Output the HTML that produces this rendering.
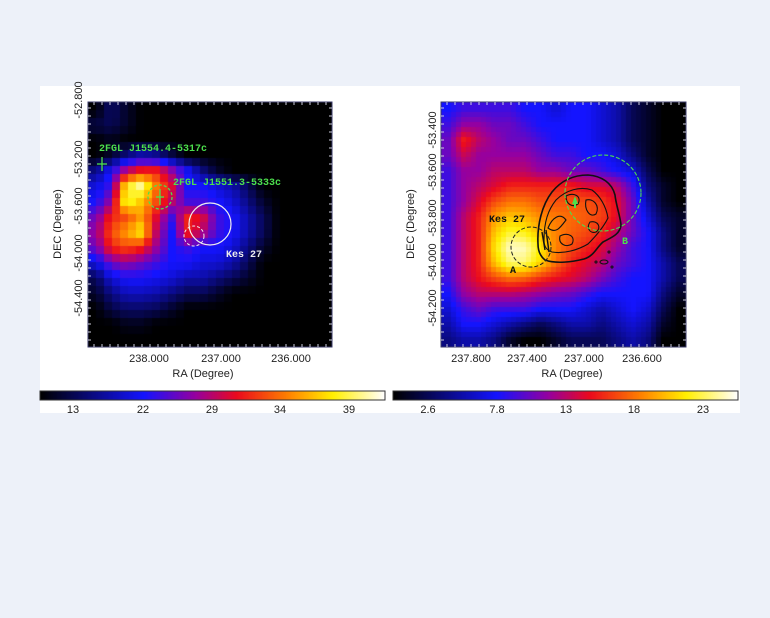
<!DOCTYPE html>
<html><head><meta charset="utf-8"><style>
body{margin:0;width:770px;height:618px;background:#edf1f9;position:relative;overflow:hidden;font-family:"Liberation Sans",sans-serif}
#panel{position:absolute;left:40px;top:86px;width:700px;height:327px;background:#fff}
canvas{position:absolute}
svg{position:absolute;left:0;top:0}
</style></head><body>
<div id="panel"></div>
<canvas id="mapL" width="244" height="245" style="left:88px;top:102px"></canvas>
<canvas id="mapR" width="245" height="245" style="left:441px;top:102px"></canvas>
<canvas id="cbL" width="345" height="9" style="left:40px;top:391px"></canvas>
<canvas id="cbR" width="345" height="9" style="left:393px;top:391px"></canvas>
<svg width="770" height="618" font-family="Liberation Sans, sans-serif">
<g fill="none" stroke="#3a3a6a">
<rect x="88" y="102" width="244" height="245"/>
<rect x="441" y="102" width="245" height="245"/>
</g>
<g id="ticks" stroke="#ccd" stroke-width="1"></g>
<g font-size="11" fill="#222" text-anchor="middle">
<text x="149" y="362">238.000</text><text x="221" y="362">237.000</text><text x="291" y="362">236.000</text>
<text x="203" y="377">RA (Degree)</text>
</g>
<g font-size="11" fill="#222" text-anchor="middle">
<text transform="translate(82,100) rotate(-90)">-52.800</text>
<text transform="translate(82,159) rotate(-90)">-53.200</text>
<text transform="translate(82,206) rotate(-90)">-53.600</text>
<text transform="translate(82,253) rotate(-90)">-54.000</text>
<text transform="translate(82,298) rotate(-90)">-54.400</text>
<text transform="translate(61,224) rotate(-90)">DEC (Degree)</text>
</g>
<g font-size="11" fill="#222" text-anchor="middle">
<text x="471" y="362">237.800</text><text x="527" y="362">237.400</text><text x="584" y="362">237.000</text><text x="642" y="362">236.600</text>
<text x="572" y="377">RA (Degree)</text>
</g>
<g font-size="11" fill="#222" text-anchor="middle">
<text transform="translate(436,130) rotate(-90)">-53.400</text>
<text transform="translate(436,172) rotate(-90)">-53.600</text>
<text transform="translate(436,218) rotate(-90)">-53.800</text>
<text transform="translate(436,262) rotate(-90)">-54.000</text>
<text transform="translate(436,308) rotate(-90)">-54.200</text>
<text transform="translate(414,224) rotate(-90)">DEC (Degree)</text>
</g>
<g font-size="10" font-weight="bold" font-family="Liberation Mono, monospace">
<text x="99" y="151" fill="#4de04d">2FGL J1554.4-5317c</text>
<text x="173" y="185" fill="#4de04d">2FGL J1551.3-5333c</text>
<text x="226" y="257" fill="#eee">Kes 27</text>
<text x="489" y="222" fill="#111">Kes 27</text>
<text x="510" y="273" fill="#111">A</text>
<text x="622" y="244" fill="#4de04d">B</text>
</g>
<g stroke="#4de04d" stroke-width="1.3"><line x1="102" y1="157" x2="102" y2="171"/><line x1="97" y1="164" x2="107" y2="164"/></g>
<g stroke="#4de04d" stroke-width="1.3" fill="none"><circle cx="160" cy="197" r="12" stroke-dasharray="3,2"/><line x1="160" y1="189" x2="160" y2="205"/><line x1="156" y1="197" x2="164" y2="197"/></g>
<circle cx="210" cy="224" r="21" fill="none" stroke="#eee" stroke-width="1.2"/>
<circle cx="194" cy="236" r="10" fill="none" stroke="#eee" stroke-dasharray="3,2"/>
<g fill="none" stroke="#111" stroke-width="1.1">
<path stroke-width="1.6" d="M538,244 C537,225 542,205 552,192 C560,182 572,175 588,175 C602,176 612,183 615,195 C616,205 620,215 621,225 C620,235 610,238 603,242 C596,248 594,256 584,259 C572,262 556,264 545,260 C540,256 538,250 538,244Z"/>
<path d="M544,240 C544,222 548,210 556,200 C566,190 580,186 592,190 C600,196 606,206 608,218 C603,228 596,236 588,244 C578,250 564,254 552,252 C546,250 544,246 544,240Z"/>
<path d="M548,228 C552,218 560,212 566,220 C560,228 556,234 548,228Z"/>
<path d="M566,196 C574,192 582,196 578,204 C572,208 566,204 566,196Z"/>
<path d="M586,200 C594,198 600,206 596,214 C590,218 584,210 586,200Z"/>
<path d="M560,236 C568,232 576,236 572,244 C566,248 558,244 560,236Z"/>
<path d="M590,222 C598,220 602,228 596,232 C590,234 586,228 590,222Z"/>
<path d="M542,232 L545,250 M546,230 L549,252" stroke-width="1.4"/>
<ellipse cx="604" cy="262" rx="4" ry="2"/><circle cx="609" cy="252" r="1"/><circle cx="596" cy="262" r="1"/><circle cx="612" cy="267" r="1"/>
</g>
<circle cx="603" cy="193" r="38" fill="none" stroke="#4de04d" stroke-width="1.1" stroke-dasharray="4,2"/>
<circle cx="531" cy="247" r="20" fill="none" stroke="#222" stroke-width="1" stroke-dasharray="4,2"/>
<path d="M575,196 L578,204 L576,204 L576,208 L574,208 L574,204 L572,204Z" fill="#4de04d"/>
<g font-size="11" fill="#222" text-anchor="middle">
<text x="73" y="413">13</text><text x="143" y="413">22</text><text x="212" y="413">29</text><text x="280" y="413">34</text><text x="349" y="413">39</text></g>
<g font-size="11" fill="#222" text-anchor="middle">
<text x="428" y="413">2.6</text><text x="497" y="413">7.8</text><text x="566" y="413">13</text><text x="634" y="413">18</text><text x="703" y="413">23</text></g>
<rect x="40" y="391" width="345" height="9" fill="none" stroke="#333"/>
<rect x="393" y="391" width="345" height="9" fill="none" stroke="#333"/>
</svg>
<script>
const leftGrid=[
[0,0.12,0.05,0,0,0,0,0,0,0,0,0,0,0,0,0],
[0.08,0.1,0.05,0,0,0,0,0,0,0,0,0,0,0,0,0],
[0,0.03,0,0,0,0,0,0,0,0,0,0,0,0,0,0],
[0,0.05,0.15,0.22,0.18,0.08,0,0,0,0,0,0,0,0,0,0],
[0.15,0.3,0.5,0.6,0.6,0.45,0.3,0.15,0.05,0,0,0,0,0,0,0],
[0.25,0.35,0.85,0.95,0.7,0.55,0.3,0.3,0.25,0.2,0.1,0,0,0,0,0],
[0.3,0.45,0.9,0.8,0.65,0.5,0.35,0.35,0.3,0.25,0.15,0.05,0,0,0,0],
[0.4,0.6,0.65,0.75,0.55,0.35,0.6,0.55,0.35,0.3,0.2,0.1,0,0,0,0],
[0.45,0.65,0.75,0.85,0.5,0.3,0.6,0.5,0.35,0.3,0.2,0.1,0,0,0,0],
[0.4,0.6,0.65,0.6,0.45,0.3,0.35,0.3,0.3,0.25,0.15,0.05,0,0,0,0],
[0.25,0.4,0.45,0.4,0.35,0.3,0.3,0.25,0.25,0.2,0.1,0,0,0,0,0],
[0.1,0.25,0.3,0.3,0.28,0.25,0.2,0.2,0.15,0.1,0.05,0,0,0,0,0],
[0.05,0.15,0.22,0.22,0.2,0.15,0.1,0.1,0.05,0,0,0,0,0,0,0],
[0,0.08,0.12,0.12,0.1,0.05,0,0,0,0,0,0,0,0,0,0],
[0,0,0.03,0.03,0,0,0,0,0,0,0,0,0,0,0,0],
[0,0,0,0,0,0,0,0,0,0,0,0,0,0,0,0]];
const rightGrid=[
[0.3,0.35,0.35,0.35,0.35,0.3,0.3,0.25,0.3,0.3,0.25,0.2,0.1,0.05,0,0],
[0.35,0.45,0.45,0.4,0.4,0.35,0.3,0.3,0.3,0.3,0.25,0.2,0.1,0.05,0,0],
[0.4,0.6,0.5,0.45,0.4,0.4,0.35,0.3,0.3,0.3,0.25,0.2,0.1,0.05,0,0],
[0.4,0.52,0.45,0.45,0.45,0.45,0.4,0.35,0.35,0.3,0.3,0.25,0.15,0.05,0,0],
[0.35,0.45,0.45,0.5,0.5,0.5,0.45,0.45,0.4,0.4,0.35,0.3,0.25,0.1,0,0],
[0.35,0.45,0.5,0.55,0.6,0.6,0.6,0.6,0.6,0.55,0.55,0.5,0.35,0.15,0.05,0],
[0.35,0.45,0.55,0.65,0.7,0.7,0.66,0.66,0.66,0.66,0.63,0.56,0.4,0.2,0.05,0],
[0.35,0.5,0.6,0.75,0.8,0.78,0.73,0.71,0.69,0.67,0.64,0.56,0.4,0.25,0.1,0.05],
[0.35,0.5,0.6,0.8,0.88,0.86,0.78,0.72,0.68,0.65,0.6,0.5,0.4,0.3,0.15,0.05],
[0.35,0.5,0.6,0.84,0.97,0.96,0.85,0.72,0.65,0.6,0.55,0.45,0.35,0.3,0.15,0.05],
[0.35,0.5,0.6,0.8,0.92,0.92,0.82,0.7,0.6,0.55,0.5,0.4,0.35,0.3,0.2,0.1],
[0.35,0.5,0.58,0.65,0.7,0.68,0.62,0.58,0.55,0.5,0.42,0.35,0.3,0.3,0.2,0.1],
[0.3,0.45,0.5,0.5,0.5,0.48,0.45,0.42,0.4,0.35,0.3,0.3,0.3,0.3,0.15,0.05],
[0.25,0.35,0.4,0.35,0.35,0.35,0.3,0.3,0.3,0.25,0.2,0.25,0.3,0.25,0.1,0],
[0.2,0.3,0.3,0.25,0.2,0.15,0.1,0.15,0.2,0.2,0.15,0.2,0.25,0.2,0.05,0],
[0.15,0.2,0.2,0.15,0.05,0,0,0.05,0.1,0.1,0.1,0.15,0.2,0.15,0,0]];
const cmapStops=[[0,0,0,0],[0.3,20,20,255],[0.45,150,0,160],[0.57,235,10,30],[0.72,255,130,0],[0.85,255,240,0],[1,255,255,255]];
function cmap(v){v=Math.max(0,Math.min(1,v));for(let i=1;i<cmapStops.length;i++){const a=cmapStops[i-1],b=cmapStops[i];if(v<=b[0]){const t=(v-a[0])/(b[0]-a[0]);return [a[1]+t*(b[1]-a[1]),a[2]+t*(b[2]-a[2]),a[3]+t*(b[3]-a[3])];}}return [255,255,255];}
function drawMap(id,g,step){const c=document.getElementById(id),ctx=c.getContext('2d'),W=c.width,H=c.height,n=g.length,m=g[0].length;const img=ctx.createImageData(W,H);
for(let y=0;y<H;y++)for(let x=0;x<W;x++){let qx=Math.floor(x/step)*step+step/2,qy=Math.floor(y/step)*step+step/2;let fx=qx/W*m-0.5,fy=qy/H*n-0.5;fx=Math.max(0,Math.min(m-1.001,fx));fy=Math.max(0,Math.min(n-1.001,fy));const i=Math.floor(fy),j=Math.floor(fx),ty=fy-i,tx=fx-j;const v=g[i][j]*(1-tx)*(1-ty)+g[i][j+1]*tx*(1-ty)+g[i+1][j]*(1-tx)*ty+g[i+1][j+1]*tx*ty;const col=cmap(v),k=(y*W+x)*4;img.data[k]=col[0];img.data[k+1]=col[1];img.data[k+2]=col[2];img.data[k+3]=255;}
ctx.putImageData(img,0,0);}
drawMap('mapL',leftGrid,8);drawMap('mapR',rightGrid,5);
function drawBar(id){const c=document.getElementById(id),ctx=c.getContext('2d');for(let x=0;x<c.width;x++){const col=cmap(x/(c.width-1));ctx.fillStyle=`rgb(${col[0]|0},${col[1]|0},${col[2]|0})`;ctx.fillRect(x,0,1,c.height);}}
drawBar('cbL');drawBar('cbR');
const tg=document.getElementById('ticks');
function tick(x1,y1,x2,y2){const l=document.createElementNS('http://www.w3.org/2000/svg','line');l.setAttribute('x1',x1);l.setAttribute('y1',y1);l.setAttribute('x2',x2);l.setAttribute('y2',y2);


tg.appendChild(l);}
[[88,332],[441,686]].forEach(([a,b])=>{for(let x=a+6;x<b;x+=8){tick(x,102,x,105);tick(x,347,x,344);}for(let y=108;y<347;y+=8){tick(a,y,a+3,y);tick(b,y,b-3,y);}});
</script>
</body></html>
